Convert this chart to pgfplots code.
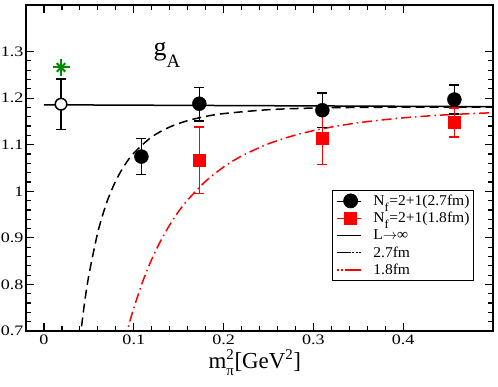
\documentclass[border=0pt]{standalone}
\usepackage{pgfplots}
\pgfplotsset{compat=1.18}
\usepackage{fontspec}
\setmainfont{Liberation Serif}
\newfontfamily\tickfont{Liberation Serif}[FakeStretch=1.25]
\newfontfamily\legfont{Liberation Serif}[FakeStretch=1.04]
\definecolor{mygreen}{RGB}{0,140,0}
\pgfplotsset{
  markleg/.style={legend image code/.code={\path (-4bp,0bp) -- (20bp,0bp); \draw[##1] plot coordinates {(10bp,0bp)};}},
  lineleg/.style={legend image code/.code={\path (-4bp,0bp) -- (20bp,0bp); \draw[##1] (0bp,0bp) -- (20bp,0bp);}},
}
\begin{document}
\begin{tikzpicture}
\begin{axis}[
  scale only axis,
  width=467bp, height=326bp,
  xmin=-0.02, xmax=0.5, ymin=0.7, ymax=1.4,
  xtick={0,0.1,0.2,0.3,0.4},
  ytick={0.7,0.8,0.9,1,1.1,1.2,1.3},
  minor x tick num=4, minor y tick num=4,
  tick align=inside,
  major tick length=8bp, minor tick length=5bp,
  every tick/.style={line width=1.2bp, black},
  axis line style={line width=1.6bp},
  /pgf/number format/assume math mode=true,
  ticklabel style={font=\tickfont\fontsize{14.5}{16}\selectfont},
  yticklabel style={xshift=1bp},
  xlabel={m$_{\mbox{\fontsize{15}{15}\selectfont π}}^{\mbox{\fontsize{15}{15}\selectfont 2}}$[GeV$^{\mbox{\fontsize{15}{15}\selectfont 2}}$]},
  xlabel style={font=\fontsize{23}{24}\selectfont, at={(axis description cs:0.49,0)}, anchor=base, yshift=-38bp},
  legend style={at={(0.959,0.4325)}, anchor=north east, draw=black, line width=0.8bp,
    font=\legfont\fontsize{15}{15}\selectfont, inner xsep=3bp, inner ysep=3.5bp, row sep=3.5bp,
    nodes={inner sep=1bp},
    /tikz/every odd column/.append style={column sep=11bp}},
  legend cell align=left,
]
% legend entries
\addlegendimage{only marks, mark=*, mark size=7bp, black, markleg}
\addlegendentry{N\raisebox{-6bp}{\fontsize{12}{12}\selectfont f}\kern0.6bp=2+1(2.7fm)}
\addlegendimage{only marks, mark=square*, mark size=6bp, red, markleg}
\addlegendentry{N\raisebox{-6bp}{\fontsize{12}{12}\selectfont f}\kern0.6bp=2+1(1.8fm)}
\addlegendimage{black, line width=1.5bp, lineleg}
\addlegendentry{L$\rightarrow$∞}
\addlegendimage{black, line width=1.5bp, dash pattern=on 10bp off 5bp on 2bp off 5bp, lineleg}
\addlegendentry{2.7fm}
\addlegendimage{red, line width=1.5bp, dash pattern=on 2bp off 6bp on 12bp off 4bp, lineleg}
\addlegendentry{1.8fm}

% L -> infinity
\addplot[forget plot, black, line width=1.5bp] coordinates {(0,1.1857) (0.5,1.1817)};
% 2.7 fm curve
\addplot[forget plot, black, line width=1.5bp, dash pattern=on 9bp off 5bp, smooth] table {
x y
0.040 0.680
0.045 0.7575
0.050 0.8197
0.060 0.9122
0.070 0.9765
0.080 1.0226
0.090 1.0565
0.100 1.0820
0.120 1.1167
0.140 1.1380
0.160 1.1517
0.180 1.1607
0.200 1.1668
0.250 1.1752
0.300 1.1787
0.350 1.1801
0.400 1.1806
0.450 1.1807
0.500 1.1806
};
% 1.8 fm curve
\addplot[forget plot, red, line width=1.5bp, dash pattern=on 10bp off 4bp on 1.5bp off 4bp, smooth] table {
x y
0.090 0.680
0.095 0.7161
0.100 0.7491
0.110 0.8064
0.120 0.8538
0.130 0.8938
0.140 0.9277
0.150 0.9567
0.160 0.9814
0.180 1.0216
0.200 1.0520
0.220 1.0757
0.250 1.1020
0.280 1.1207
0.310 1.1343
0.350 1.1471
0.400 1.1577
0.450 1.1644
0.500 1.1687
};
% 2+1 (2.7fm) data
\addplot[forget plot, only marks, mark=*, mark size=7bp, black,
  error bars/.cd, y dir=both, y explicit,
  error mark options={rotate=90, mark size=5bp, line width=1.5bp},
  error bar style={line width=1.5bp}]
table[x=x, y=y, y error plus=ep, y error minus=em] {
x y ep em
0.1085 1.0745 0.0385 0.039
0.173 1.188 0.035 0.037
0.310 1.174 0.037 0.037
0.457 1.197 0.031 0.031
};
% 2+1 (1.8fm) data
\addplot[forget plot, only marks, mark=square*, mark size=6bp, red,
  error bars/.cd, y dir=both, y explicit,
  error mark options={rotate=90, mark size=5bp, line width=1.5bp, red},
  error bar style={line width=1.5bp, red}]
table[x=x, y=y, y error plus=ep, y error minus=em] {
x y ep em
0.173 1.067 0.071 0.072
0.310 1.115 0.059 0.058
0.457 1.149 0.030 0.032
};
% extrapolated value
\addplot[forget plot, only marks, mark=*, mark size=5.8bp, black,
  mark options={fill=white, line width=1.5bp},
  error bars/.cd, y dir=both, y explicit,
  error mark options={rotate=90, mark size=5bp, line width=1.5bp},
  error bar style={line width=1.5bp}]
table[x=x, y=y, y error plus=ep, y error minus=em] {
x y ep em
0.019 1.187 0.054 0.054
};
% experiment (8-armed star)
\addplot[forget plot, only marks, mark=+, mark size=8.5bp, mygreen, mark options={line width=2bp}] coordinates {(0.019,1.266)};
\addplot[forget plot, only marks, mark=x, mark size=6bp, mygreen, mark options={line width=2bp}] coordinates {(0.019,1.266)};
\node[anchor=base west, inner sep=0pt] at (axis cs:0.122,1.291) {{\fontsize{26}{26}\selectfont g}\raisebox{-12bp}{\fontsize{19}{19}\selectfont A}};
\end{axis}
\pgfresetboundingbox
\path (current axis.south west) ++(-26bp,-56bp) rectangle ([shift={(5bp,5bp)}]current axis.north east);
\end{tikzpicture}
\end{document}
